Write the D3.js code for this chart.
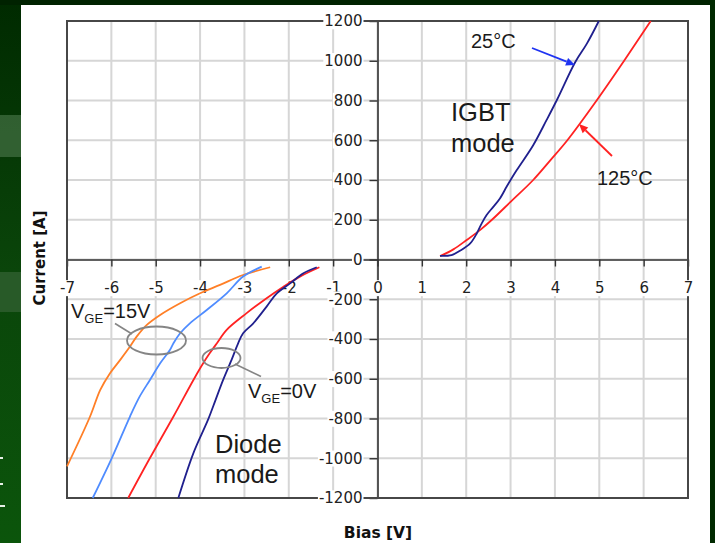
<!DOCTYPE html>
<html>
<head>
<meta charset="utf-8">
<script src="https://cdn.jsdelivr.net/npm/d3@7"></script>
<style>
html,body{margin:0;padding:0;background:#0b3f0b;}
svg{display:block;}
</style>
</head>
<body>
<svg id="chart" width="715" height="543"></svg>
<script>
// ---- data ----
const xTicks = [-7,-6,-5,-4,-3,-2,-1,0,1,2,3,4,5,6,7];
const yTicks = [-1200,-1000,-800,-600,-400,-200,0,200,400,600,800,1000,1200];

// IGBT mode (positive bias)
const igbt25 = [[1.41,18],[1.67,22],[1.86,44],[2.09,81],[2.24,132],[2.35,182],[2.46,224],[2.61,265],[2.76,307],[2.91,366],[3.0,400],[3.14,450],[3.51,575],[3.81,701],[4.05,805],[4.45,990],[4.72,1086],[4.99,1200]];
const igbt125 = [[1.41,17],[1.71,51],[2.01,98],[2.31,148],[2.58,200],[3.0,290],[3.51,400],[3.9,500],[4.28,600],[4.94,800],[5.56,1000],[6.16,1200]];

// Diode mode (negative bias)
const diodeVge15_25 = [[-7,-1041],[-6.48,-790],[-6.25,-656],[-6.03,-572],[-5.80,-505],[-5.58,-438],[-5.43,-388],[-5.20,-329],[-4.90,-279],[-4.45,-220],[-4.0,-170],[-3.55,-128],[-3.03,-78],[-2.42,-39]];
const diodeVge15_125 = [[-6.42,-1200],[-5.99,-999],[-5.58,-790],[-5.36,-689],[-5.13,-606],[-4.90,-522],[-4.68,-455],[-4.60,-421],[-4.45,-371],[-4.23,-321],[-3.85,-254],[-3.40,-170],[-3.03,-86],[-2.61,-36]];
const diodeVge0_125 = [[-5.62,-1200],[-5.13,-999],[-4.60,-790],[-4.15,-606],[-3.93,-522],[-3.78,-471],[-3.62,-421],[-3.40,-354],[-2.95,-270],[-2.50,-195],[-2.12,-137],[-1.75,-86],[-1.31,-39]];
const diodeVge0_25 = [[-4.49,-1200],[-4.15,-974],[-3.82,-806],[-3.65,-706],[-3.48,-606],[-3.29,-505],[-3.14,-421],[-3.03,-371],[-2.80,-321],[-2.50,-237],[-2.27,-170],[-1.97,-120],[-1.67,-69],[-1.37,-39]];

const seriesColors = {navy:"#20208e", red:"#ff2222", orange:"#ff7f27", lightblue:"#4f8cff"};

// ---- drawing ----
const svg = d3.select("#chart");

// slide background
const defs = svg.append("defs");
const g1 = defs.append("linearGradient").attr("id","bg").attr("x1",0).attr("y1",0).attr("x2",0).attr("y2",1);
g1.append("stop").attr("offset","0%").attr("stop-color","#002a00");
g1.append("stop").attr("offset","50%").attr("stop-color","#0a450a");
g1.append("stop").attr("offset","100%").attr("stop-color","#0b550b");
svg.append("rect").attr("width",715).attr("height",543).attr("fill","url(#bg)");
svg.append("rect").attr("x",0).attr("y",0).attr("width",715).attr("height",5).attr("fill","#002200");
svg.append("rect").attr("x",0).attr("y",115).attr("width",21).attr("height",42).attr("fill","#3c6a3c").attr("opacity",0.8);
svg.append("rect").attr("x",0).attr("y",272).attr("width",21).attr("height",40).attr("fill","#2f5f2f").attr("opacity",0.8);
svg.append("rect").attr("x",710).attr("y",0).attr("width",5).attr("height",543).attr("fill","#002a00");
[457,483,505].forEach(yy=>svg.append("rect").attr("x",0).attr("y",yy).attr("width",yy===505?5:3).attr("height",2).attr("fill","#e8f0e8"));
svg.append("rect").attr("x",21).attr("y",5).attr("width",689).attr("height",538).attr("fill","#ffffff");

const x = d3.scaleLinear().domain([-7,7]).range([67,688]);
const y = d3.scaleLinear().domain([-1200,1200]).range([498,21]);

// grid
const grid = svg.append("g");
grid.selectAll("line.v").data(xTicks).join("line")
  .attr("x1",d=>x(d)).attr("x2",d=>x(d)).attr("y1",y(1200)).attr("y2",y(-1200))
  .attr("stroke","#d6d6d6").attr("stroke-width",2);
grid.selectAll("line.h").data(yTicks).join("line")
  .attr("y1",d=>y(d)).attr("y2",d=>y(d)).attr("x1",x(-7)).attr("x2",x(7))
  .attr("stroke","#d6d6d6").attr("stroke-width",2);

// axes through zero
const axisFont = "'DejaVu Sans', sans-serif";
const xAxisT = `translate(0,${y(0)})`, yAxisT = `translate(${x(0)},0)`;
const xAxis = svg.append("g").attr("transform",xAxisT)
  .call(d3.axisBottom(x).tickValues(xTicks).tickFormat(d=>String(d)).tickSize(7).tickSizeOuter(0).tickPadding(16));
const yAxis = svg.append("g").attr("transform",yAxisT)
  .call(d3.axisLeft(y).tickValues(yTicks).tickFormat(d=>String(d)).tickSize(8).tickSizeOuter(0).tickPadding(7));
[[xAxis,"middle"],[yAxis,"end"]].forEach(([a,anchor])=>{
  a.select(".domain").attr("stroke","#333").attr("stroke-width",1.6);
  a.selectAll(".tick line").attr("stroke","#333").attr("stroke-width",1.4);
  a.selectAll(".tick text").attr("font-family",axisFont).attr("font-size",15).attr("fill","#222").attr("text-anchor",anchor);
});
// plot border
svg.append("rect").attr("x",x(-7)).attr("y",y(1200)).attr("width",x(7)-x(-7)).attr("height",y(-1200)-y(1200))
  .attr("fill","none").attr("stroke","#474747").attr("stroke-width",2);

// move tick labels on top of everything, with white backgrounds
[[xAxis,xAxisT],[yAxis,yAxisT]].forEach(([a,tr0])=>{
  const layer = svg.append("g").attr("transform",tr0);
  a.selectAll(".tick").each(function(){
    const tick = d3.select(this);
    const t = tick.select("text");
    const g = layer.append("g").attr("transform",tick.attr("transform"));
    const node = g.node().appendChild(t.node());
    const bb = node.getBBox();
    g.insert("rect","text").attr("x",bb.x-1).attr("y",bb.y+1).attr("width",bb.width+2).attr("height",bb.height-2).attr("fill","#fff");
  });
});

// series
const line = d3.line().x(d=>x(d[0])).y(d=>y(d[1])).curve(d3.curveCatmullRom.alpha(0.5));
const series = [
  {data:diodeVge15_25, color:seriesColors.orange},
  {data:diodeVge15_125, color:seriesColors.lightblue},
  {data:diodeVge0_125, color:seriesColors.red},
  {data:diodeVge0_25, color:seriesColors.navy},
  {data:igbt125, color:seriesColors.red},
  {data:igbt25, color:seriesColors.navy}
];
svg.append("g").selectAll("path").data(series).join("path")
  .attr("d",d=>line(d.data)).attr("fill","none").attr("stroke",d=>d.color).attr("stroke-width",1.8);

// annotations
const ann = svg.append("g").attr("font-family","'Liberation Sans', Arial, sans-serif").attr("fill","#1a1a1a");
ann.append("text").attr("x",471).attr("y",48).attr("font-size",20).text("25°C");
ann.append("text").attr("x",597).attr("y",185).attr("font-size",20).text("125°C");
ann.append("text").attr("x",451).attr("y",121).attr("font-size",25.5).text("IGBT");
ann.append("text").attr("x",451).attr("y",152).attr("font-size",25.5).text("mode");
ann.append("text").attr("x",215).attr("y",453).attr("font-size",25.5).text("Diode");
ann.append("text").attr("x",215).attr("y",483).attr("font-size",25.5).text("mode");

function vge(xp, yp, val){
  const t = ann.append("text").attr("x",xp).attr("y",yp).attr("font-size",20);
  t.append("tspan").text("V");
  t.append("tspan").attr("font-size",13).attr("dy",5).text("GE");
  t.append("tspan").attr("dy",-5).text("=" + val);
}
vge(71, 318, "15V");
vge(248, 398, "0V");

// ellipses + leaders
const gray = "#858585";
svg.append("ellipse").attr("cx",156.5).attr("cy",340.5).attr("rx",29.5).attr("ry",14).attr("fill","none").attr("stroke",gray).attr("stroke-width",1.8);
svg.append("line").attr("x1",115).attr("y1",323.5).attr("x2",132).attr("y2",334).attr("stroke",gray).attr("stroke-width",1.6);
svg.append("ellipse").attr("cx",221.5).attr("cy",358).attr("rx",19).attr("ry",10).attr("fill","none").attr("stroke",gray).attr("stroke-width",1.8);
svg.append("line").attr("x1",235).attr("y1",364).attr("x2",261).attr("y2",376.5).attr("stroke",gray).attr("stroke-width",1.6);

// arrows
function arrow(x1,y1,x2,y2,color){
  const ang = Math.atan2(y2-y1,x2-x1), L=9, W=4;
  const bx = x2 - L*Math.cos(ang), by = y2 - L*Math.sin(ang);
  svg.append("line").attr("x1",x1).attr("y1",y1).attr("x2",bx).attr("y2",by).attr("stroke",color).attr("stroke-width",1.8);
  const px = -Math.sin(ang)*W, py = Math.cos(ang)*W;
  svg.append("path").attr("d",`M${x2},${y2}L${bx+px},${by+py}L${bx-px},${by-py}Z`).attr("fill",color);
}
arrow(532,48,575,65,"#1f33f2");
arrow(612,156,579,124,"#ff2222");

// axis titles
svg.append("text").attr("x",378).attr("y",538).attr("text-anchor","middle")
  .attr("font-family",axisFont).attr("font-weight","bold").attr("font-size",15.5).attr("fill","#111").text("Bias [V]");
svg.append("text").attr("transform","translate(45,258) rotate(-90)").attr("text-anchor","middle")
  .attr("font-family",axisFont).attr("font-weight","bold").attr("font-size",15).attr("fill","#111").text("Current [A]");
</script>
</body>
</html>
